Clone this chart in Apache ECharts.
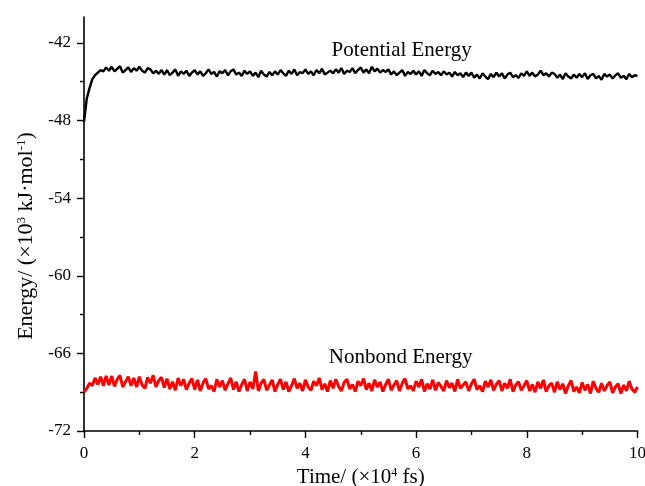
<!DOCTYPE html>
<html>
<head>
<meta charset="utf-8">
<script src="https://cdn.jsdelivr.net/npm/echarts@6/dist/echarts.min.js"></script>
<style>
    html, body { margin: 0; padding: 0; background: #fff; }
    #chart { width: 645px; height: 486px; }
</style>
</head>
<body>
<div id="chart"></div>
<script>
// time axis, in units of 1e4 fs; one sample every 0.05
const TIME_STEP = 0.05;

// energy, 1e3 kJ/mol (rows of ten samples = 0.5 units of time)
const potential = [
    -48.1, -46.3, -45.5, -44.8, -44.5, -44.3, -44.1, -44.2, -43.9, -44.15,
    -43.85, -44.2, -44.0, -43.8, -44.3, -44.1, -43.9, -44.25, -43.95, -44.15,
    -43.85, -44.15, -44.3, -43.95, -44.05, -44.35, -44.15, -44.4, -44.1, -44.45,
    -44.1, -44.5, -44.3, -44.05, -44.55, -44.2, -44.4, -44.15, -44.55, -44.3,
    -44.1, -44.45, -44.2, -44.55, -44.35, -44.05, -44.4, -44.25, -44.6, -44.2,
    -44.35, -44.1, -44.5, -44.2, -44.05, -44.45, -44.3, -44.55, -44.15, -44.4,
    -44.2, -44.55, -44.3, -44.65, -44.15, -44.45, -44.6, -44.25, -44.5, -44.2,
    -44.45, -44.1, -44.35, -44.55, -44.15, -44.4, -44.05, -44.5, -44.25, -44.35,
    -44.05, -44.4, -44.2, -44.5, -44.1, -44.35, -44.0, -44.45, -44.3, -44.15,
    -44.35, -44.05, -44.3, -43.95, -44.4, -44.15, -44.25, -43.95, -44.35, -44.1,
    -43.9, -44.3, -44.05, -44.35, -43.85, -44.2, -44.0, -44.3, -44.1, -44.25,
    -44.05, -44.45, -44.2, -44.5, -44.3, -44.1, -44.55, -44.25, -44.4, -44.15,
    -44.45, -44.2, -44.55, -44.1, -44.35, -44.5, -44.15, -44.4, -44.25, -44.5,
    -44.2, -44.45, -44.3, -44.6, -44.25, -44.5, -44.35, -44.65, -44.3, -44.55,
    -44.3, -44.7, -44.45, -44.75, -44.35, -44.6, -44.8, -44.4, -44.65, -44.3,
    -44.6, -44.35, -44.75, -44.45, -44.3, -44.65, -44.5, -44.7, -44.35, -44.55,
    -44.2, -44.55, -44.3, -44.6, -44.45, -44.15, -44.5, -44.35, -44.6, -44.3,
    -44.4, -44.7, -44.45, -44.8, -44.35, -44.6, -44.75, -44.45, -44.7, -44.4,
    -44.65, -44.35, -44.8, -44.5, -44.4, -44.75, -44.55, -44.85, -44.4, -44.6,
    -44.45, -44.75, -44.5, -44.35, -44.7, -44.55, -44.8, -44.4, -44.65, -44.5,
    -44.55,
];

const nonbond = [
    -69.0, -68.7, -68.3, -68.5, -67.9, -68.4, -67.8, -68.5, -67.75, -68.45,
    -67.75, -68.55, -68.0, -67.7, -68.6, -68.2, -67.8, -68.5, -67.9, -68.6,
    -67.8, -68.45, -68.7, -67.85, -68.3, -67.7, -68.6, -68.1, -67.85, -68.65,
    -67.95, -68.75, -68.2, -68.85, -67.9, -68.5, -68.0, -68.8, -68.3, -67.95,
    -68.8, -68.05, -68.9, -68.3, -67.95, -68.75, -68.5, -68.95, -68.0, -68.6,
    -68.1, -68.85, -68.35, -67.9, -68.8, -68.2, -68.95, -68.4, -68.0, -68.9,
    -68.2, -68.75, -67.4, -68.9, -68.3, -68.0, -68.85, -68.45, -68.05, -68.95,
    -68.4, -68.0, -68.8, -68.2, -68.95, -68.5, -67.95, -68.7, -68.3, -68.9,
    -68.05, -68.6, -68.85, -68.15, -68.5, -67.9, -68.8, -68.35, -68.95, -68.1,
    -68.7, -68.0, -68.55, -68.9, -68.25, -68.0, -68.75, -68.4, -68.95, -68.15,
    -68.5, -67.95, -68.8, -68.3, -68.9, -68.05, -68.6, -68.2, -68.95, -68.4,
    -68.0, -68.85, -68.45, -68.1, -68.9, -68.3, -67.95, -68.75, -68.5, -68.9,
    -68.15, -68.6, -68.0, -68.95, -68.35, -68.75, -68.05, -68.85, -68.25, -68.55,
    -68.9, -68.1, -68.65, -68.3, -68.95, -68.0, -68.7, -68.45, -68.2, -68.9,
    -68.35, -68.0, -68.8, -68.5, -68.95, -68.15, -68.6, -68.05, -68.85, -68.4,
    -68.1, -68.9, -68.3, -68.7, -68.0, -68.95, -68.45, -68.2, -68.85, -68.5,
    -68.1, -68.9, -68.4, -69.0, -68.2, -68.7, -68.05, -68.95, -68.5, -68.3,
    -69.0, -68.2, -68.8, -68.35, -69.1, -68.5, -68.1, -68.95, -68.6, -69.05,
    -68.25, -68.85, -68.4, -69.1, -68.15, -68.7, -69.0, -68.3, -68.9, -68.5,
    -68.2, -69.05, -68.6, -68.35, -69.1, -68.45, -68.9, -68.15, -68.75, -69.0,
    -68.6,
];

const yMajor = [-72, -66, -60, -54, -48, -42];
const yMinor = [-69, -63, -57, -51, -45];

// [time, energy] where each curve's label sits
const labelAt = {
    potential: [5.74, -42.6],
    nonbond: [5.72, -66.3],
};

const FONT = "Liberation Serif";

function pairs(values) {
    return values.map((v, i) => [+(i * TIME_STEP).toFixed(2), v]);
}

function curveLabel(text, coord) {
    return {
        symbol: "circle",
        symbolSize: 1,
        silent: true,
        itemStyle: { color: "rgba(0,0,0,0)" },
        data: [{ coord, value: 0 }],
        label: {
            show: true,
            position: "inside",
            formatter: text,
            fontFamily: FONT,
            fontSize: 21,
            color: "#000",
        },
    };
}

const chart = echarts.init(document.getElementById("chart"));

const axisLine = { show: true, lineStyle: { color: "#000", width: 1.6 } };
const tickLabel = { fontFamily: FONT, fontSize: 17, color: "#000" };
const supStyle = { fontFamily: FONT, fontSize: 12, verticalAlign: "top", color: "#000" };

chart.setOption({
    animation: false,
    backgroundColor: "#fff",
    grid: { left: 84, right: 7.5, top: 17, bottom: 55, outerBoundsMode: "none", containLabel: false },
    xAxis: {
        type: "value",
        min: 0,
        max: 10,
        interval: 2,
        name: "Time/ (×10{sup|4} fs)",
        nameLocation: "middle",
        nameGap: 32,
        nameTextStyle: { fontFamily: FONT, fontSize: 21, color: "#000", rich: { sup: supStyle } },
        axisLine,
        axisTick: { show: true, length: 7, lineStyle: { color: "#000", width: 1.4 } },
        minorTick: { show: true, splitNumber: 2, length: 4, lineStyle: { color: "#000", width: 1.4 } },
        axisLabel: { ...tickLabel, margin: 14 },
        splitLine: { show: false },
    },
    yAxis: [
        {
            type: "value",
            min: -72,
            max: -40,
            name: "Energy/ (×10{sup|3} kJ·mol{sup|-1})",
            nameLocation: "middle",
            nameGap: 47,
            nameTextStyle: {
                fontFamily: FONT,
                fontSize: 22,
                color: "#000",
                padding: [0, 24, 0, 0],
                rich: { sup: { ...supStyle, fontSize: 13 } },
            },
            axisLine,
            axisTick: { show: true, length: 7, customValues: yMajor, lineStyle: { color: "#000", width: 1.4 } },
            axisLabel: { ...tickLabel, margin: 13, customValues: yMajor },
            splitLine: { show: false },
        },
        {
            type: "value",
            min: -72,
            max: -40,
            position: "left",
            axisLine: { show: false },
            axisTick: { show: true, length: 4, customValues: yMinor, lineStyle: { color: "#000", width: 1.4 } },
            axisLabel: { show: false },
            splitLine: { show: false },
        },
    ],
    series: [
        {
            name: "Potential Energy",
            type: "line",
            showSymbol: false,
            symbol: "none",
            lineStyle: { color: "#000", width: 2.4 },
            data: pairs(potential),
            markPoint: curveLabel("Potential Energy", labelAt.potential),
        },
        {
            name: "Nonbond Energy",
            type: "line",
            showSymbol: false,
            symbol: "none",
            lineStyle: { color: "#ff0000", width: 3 },
            data: pairs(nonbond),
            markPoint: curveLabel("Nonbond Energy", labelAt.nonbond),
        },
    ],
});
</script>
</body>
</html>
